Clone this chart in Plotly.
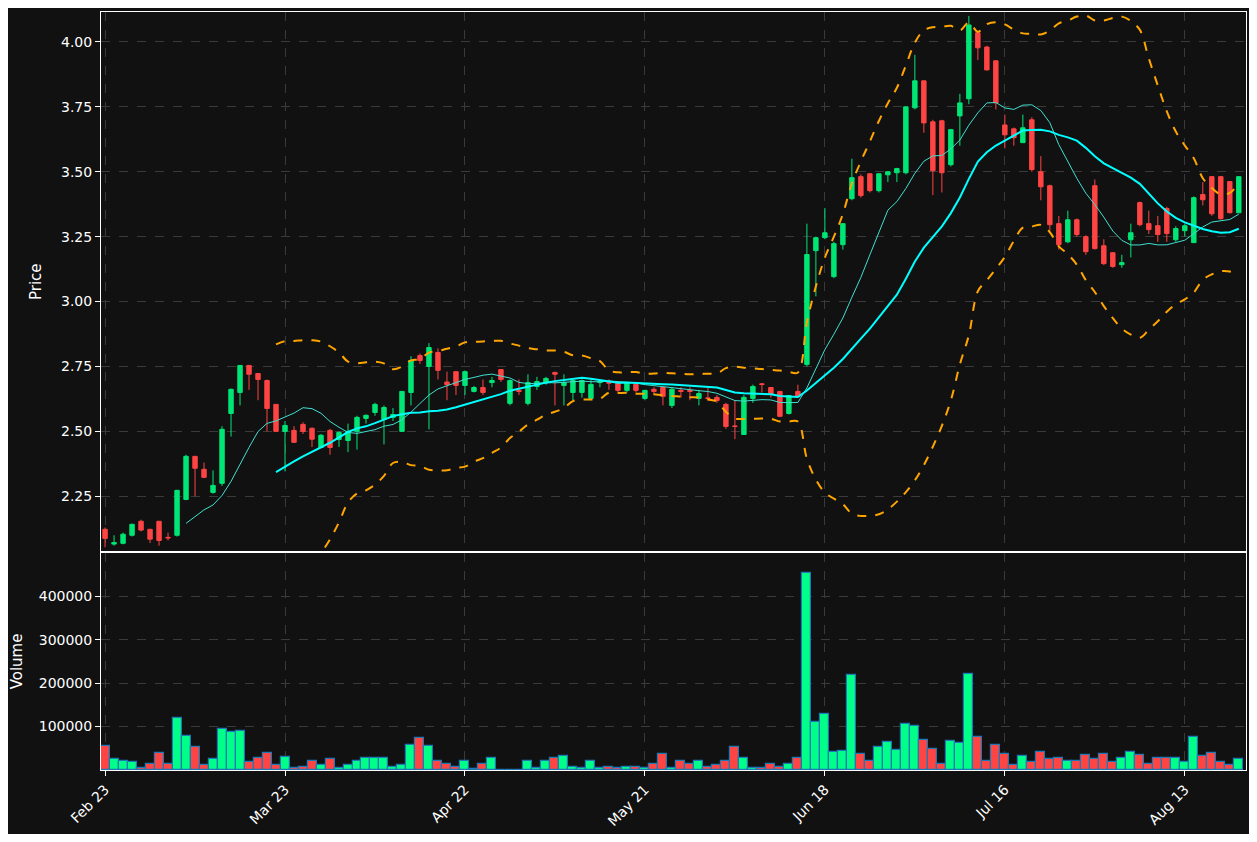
import pandas as pd
import plotly.graph_objects as go
from plotly.subplots import make_subplots

# OHLC, one entry per trading day
opens = [2.123, 2.066, 2.069, 2.10, 2.154, 2.123, 2.154, 2.092, 2.10, 2.238,
         2.404, 2.354, 2.265, 2.30, 2.569, 2.65, 2.754, 2.723, 2.696, 2.604,
         2.50, 2.504, 2.527, 2.512, 2.438, 2.504, 2.469, 2.465, 2.50, 2.55,
         2.573, 2.546, 2.554, 2.50, 2.65, 2.792, 2.75, 2.804, 2.69, 2.73,
         2.677, 2.654, 2.669, 2.688, 2.738, 2.608, 2.658, 2.608, 2.673, 2.688,
         2.727, 2.677, 2.65, 2.65, 2.627, 2.688, 2.688, 2.688, 2.658, 2.681,
         2.627, 2.662, 2.669, 2.60, 2.658, 2.658, 2.627, 2.629, 2.631, 2.604,
         2.521, 2.488, 2.627, 2.683, 2.669, 2.654, 2.569, 2.654, 2.758, 3.196,
         3.246, 3.096, 3.219, 3.396, 3.481, 3.492, 3.427, 3.488, 3.496, 3.496,
         3.746, 3.85, 3.692, 3.696, 3.527, 3.715, 3.781, 4.035, 3.98, 3.927,
         3.68, 3.665, 3.612, 3.70, 3.50, 3.446, 3.30, 3.23, 3.315, 3.25,
         3.446, 3.215, 3.188, 3.142, 3.238, 3.381, 3.30, 3.292, 3.358, 3.238,
         3.273, 3.227, 3.412, 3.481, 3.481, 3.462, 3.342]
closes = [2.088, 2.072, 2.104, 2.142, 2.12, 2.085, 2.08, 2.09, 2.273, 2.404,
          2.358, 2.323, 2.292, 2.508, 2.662, 2.754, 2.72, 2.70, 2.588, 2.50,
          2.523, 2.458, 2.50, 2.47, 2.485, 2.438, 2.496, 2.50, 2.554, 2.562,
          2.604, 2.592, 2.565, 2.654, 2.773, 2.773, 2.823, 2.735, 2.68, 2.677,
          2.73, 2.669, 2.65, 2.696, 2.70, 2.696, 2.654, 2.688, 2.692, 2.704,
          2.72, 2.688, 2.696, 2.696, 2.681, 2.692, 2.686, 2.658, 2.688, 2.658,
          2.658, 2.654, 2.635, 2.662, 2.654, 2.654, 2.646, 2.627, 2.619, 2.519,
          2.519, 2.631, 2.673, 2.681, 2.642, 2.558, 2.638, 2.635, 3.181, 3.246,
          3.265, 3.223, 3.30, 3.477, 3.408, 3.427, 3.492, 3.50, 3.512, 3.75,
          3.85, 3.688, 3.504, 3.496, 3.662, 3.765, 4.065, 3.977, 3.892, 3.765,
          3.642, 3.631, 3.669, 3.508, 3.442, 3.296, 3.219, 3.315, 3.258, 3.192,
          3.204, 3.146, 3.135, 3.15, 3.265, 3.296, 3.277, 3.258, 3.262, 3.281,
          3.292, 3.40, 3.392, 3.338, 3.319, 3.342, 3.481]
highs = [2.13, 2.10, 2.11, 2.145, 2.16, 2.125, 2.155, 2.11, 2.275, 2.41,
         2.405, 2.38, 2.35, 2.52, 2.665, 2.755, 2.755, 2.725, 2.70, 2.605,
         2.54, 2.52, 2.535, 2.515, 2.49, 2.51, 2.50, 2.53, 2.56, 2.565,
         2.61, 2.60, 2.59, 2.655, 2.79, 2.80, 2.84, 2.82, 2.73, 2.73,
         2.735, 2.675, 2.70, 2.71, 2.74, 2.70, 2.70, 2.72, 2.71, 2.71,
         2.73, 2.72, 2.70, 2.70, 2.70, 2.70, 2.70, 2.69, 2.69, 2.69,
         2.66, 2.67, 2.67, 2.67, 2.67, 2.67, 2.66, 2.67, 2.64, 2.61,
         2.62, 2.64, 2.68, 2.685, 2.67, 2.655, 2.64, 2.68, 3.30, 3.25,
         3.36, 3.23, 3.30, 3.55, 3.49, 3.495, 3.495, 3.50, 3.515, 3.75,
         3.95, 3.85, 3.70, 3.70, 3.665, 3.80, 4.10, 4.04, 3.985, 3.93,
         3.72, 3.67, 3.72, 3.71, 3.56, 3.45, 3.33, 3.35, 3.32, 3.255,
         3.47, 3.24, 3.19, 3.18, 3.30, 3.385, 3.35, 3.33, 3.365, 3.29,
         3.30, 3.405, 3.46, 3.482, 3.482, 3.463, 3.482]
lows = [2.054, 2.06, 2.065, 2.095, 2.115, 2.07, 2.06, 2.08, 2.095, 2.235,
        2.25, 2.32, 2.26, 2.29, 2.48, 2.60, 2.66, 2.62, 2.50, 2.50,
        2.346, 2.455, 2.49, 2.44, 2.435, 2.41, 2.44, 2.42, 2.43, 2.53,
        2.56, 2.45, 2.54, 2.50, 2.60, 2.76, 2.508, 2.70, 2.62, 2.64,
        2.64, 2.65, 2.64, 2.67, 2.69, 2.60, 2.64, 2.60, 2.66, 2.68,
        2.60, 2.60, 2.62, 2.63, 2.62, 2.67, 2.66, 2.65, 2.65, 2.65,
        2.62, 2.64, 2.60, 2.59, 2.63, 2.62, 2.60, 2.62, 2.61, 2.51,
        2.47, 2.488, 2.61, 2.65, 2.63, 2.555, 2.565, 2.63, 2.75, 3.02,
        3.24, 3.09, 3.20, 3.39, 3.40, 3.42, 3.42, 3.46, 3.46, 3.49,
        3.74, 3.65, 3.41, 3.42, 3.52, 3.60, 3.76, 3.93, 3.89, 3.74,
        3.59, 3.60, 3.61, 3.50, 3.39, 3.27, 3.20, 3.225, 3.25, 3.18,
        3.20, 3.14, 3.13, 3.13, 3.17, 3.29, 3.26, 3.23, 3.23, 3.23,
        3.25, 3.225, 3.37, 3.33, 3.315, 3.34, 3.34]
volumes = [55000, 26000, 22000, 18000, 5000, 15000, 39000, 15000, 120000, 78000,
           53000, 11000, 25000, 95000, 88000, 90000, 18000, 29000, 39000, 11000,
           31000, 5000, 8000, 20000, 11000, 25000, 5000, 11000, 22000, 27000,
           29000, 27000, 8000, 11000, 57000, 74000, 55000, 20000, 15000, 8000,
           20000, 2000, 13000, 29000, 1000, 1000, 1000, 20000, 5000, 20000,
           27000, 32000, 8000, 4000, 20000, 5000, 8000, 5000, 8000, 8000,
           5000, 15000, 36000, 5000, 22000, 13000, 22000, 8000, 11000, 22000,
           53000, 29000, 5000, 5000, 13000, 8000, 13000, 27000, 453000, 111000,
           129000, 41000, 43000, 220000, 36000, 22000, 53000, 64000, 46000, 106000,
           102000, 69000, 48000, 15000, 67000, 62000, 222000, 76000, 20000, 57000,
           36000, 11000, 32000, 18000, 41000, 25000, 27000, 20000, 22000, 34000,
           25000, 36000, 18000, 29000, 41000, 34000, 15000, 29000, 29000, 27000,
           18000, 76000, 32000, 39000, 18000, 11000, 25000]

tick_labels = ["Feb 23", "Mar 23", "Apr 22", "May 21", "Jun 18", "Jul 16", "Aug 13"]

df = pd.DataFrame({"open": opens, "high": highs, "low": lows, "close": closes, "volume": volumes})
x = list(range(len(df)))
df["ma10"] = df["close"].rolling(10).mean()
df["ma20"] = df["close"].rolling(20).mean()
std20 = df["close"].rolling(20).std()
df["bb_up"] = df["ma20"] + 2 * std20
df["bb_lo"] = df["ma20"] - 2 * std20

GREEN = "#00e676"
RED = "#ff4444"
vol_colors = ["#00ff88" if c >= o else RED for o, c in zip(opens, closes)]

fig = make_subplots(rows=2, cols=1, shared_xaxes=True, vertical_spacing=0.002,
                    row_heights=[0.713, 0.287])

fig.add_trace(go.Candlestick(
    x=x, open=df["open"], high=df["high"], low=df["low"], close=df["close"],
    increasing=dict(line=dict(color=GREEN, width=1), fillcolor=GREEN),
    decreasing=dict(line=dict(color=RED, width=1), fillcolor=RED),
    whiskerwidth=0, name="Price"), row=1, col=1)

fig.add_trace(go.Scatter(x=x, y=df["ma10"], mode="lines",
                         line=dict(color="#40e0d0", width=1), name="MA10"), row=1, col=1)
fig.add_trace(go.Scatter(x=x, y=df["ma20"], mode="lines",
                         line=dict(color="#00ffff", width=2), name="MA20"), row=1, col=1)
fig.add_trace(go.Scatter(x=x, y=df["bb_up"], mode="lines", line_shape="spline",
                         line=dict(color="orange", width=2, dash="dash"), name="BB Upper"), row=1, col=1)
fig.add_trace(go.Scatter(x=x, y=df["bb_lo"], mode="lines", line_shape="spline",
                         line=dict(color="orange", width=2, dash="dash"), name="BB Lower"), row=1, col=1)

fig.add_trace(go.Bar(x=x, y=df["volume"], marker=dict(color=vol_colors, line=dict(color="#1f77b4", width=1.2)),
                     width=1.0, name="Volume"), row=2, col=1)

axis_common = dict(showline=True, linecolor="white", linewidth=1, mirror=True,
                   gridcolor="#3a3a3a", griddash="dash", zeroline=False,
                   tickfont=dict(color="white", size=14), ticks="outside", tickcolor="white")

fig.update_xaxes(**axis_common, range=[-0.45, 126.8], tickvals=x[::20], ticktext=tick_labels,
                 rangeslider_visible=False)
fig.update_xaxes(showticklabels=False, ticks="", row=1, col=1)
fig.update_xaxes(tickangle=-45, row=2, col=1)

fig.update_yaxes(**axis_common)
fig.update_yaxes(title=dict(text="Price", font=dict(color="white", size=15)), range=[2.038, 4.115],
                 tickvals=[2.25, 2.5, 2.75, 3.0, 3.25, 3.5, 3.75, 4.0], tickformat=".2f", row=1, col=1)
fig.update_yaxes(title=dict(text="Volume", font=dict(color="white", size=15)), range=[0, 500000],
                 tickvals=[100000, 200000, 300000, 400000], tickformat="d", row=2, col=1)

fig.update_layout(
    width=1241, height=826,
    paper_bgcolor="#111111", plot_bgcolor="#111111",
    font=dict(family="DejaVu Sans", color="white"),
    margin=dict(l=93, r=3, t=4, b=64),
    showlegend=False, bargap=0,
)

fig.write_html("out.html")
